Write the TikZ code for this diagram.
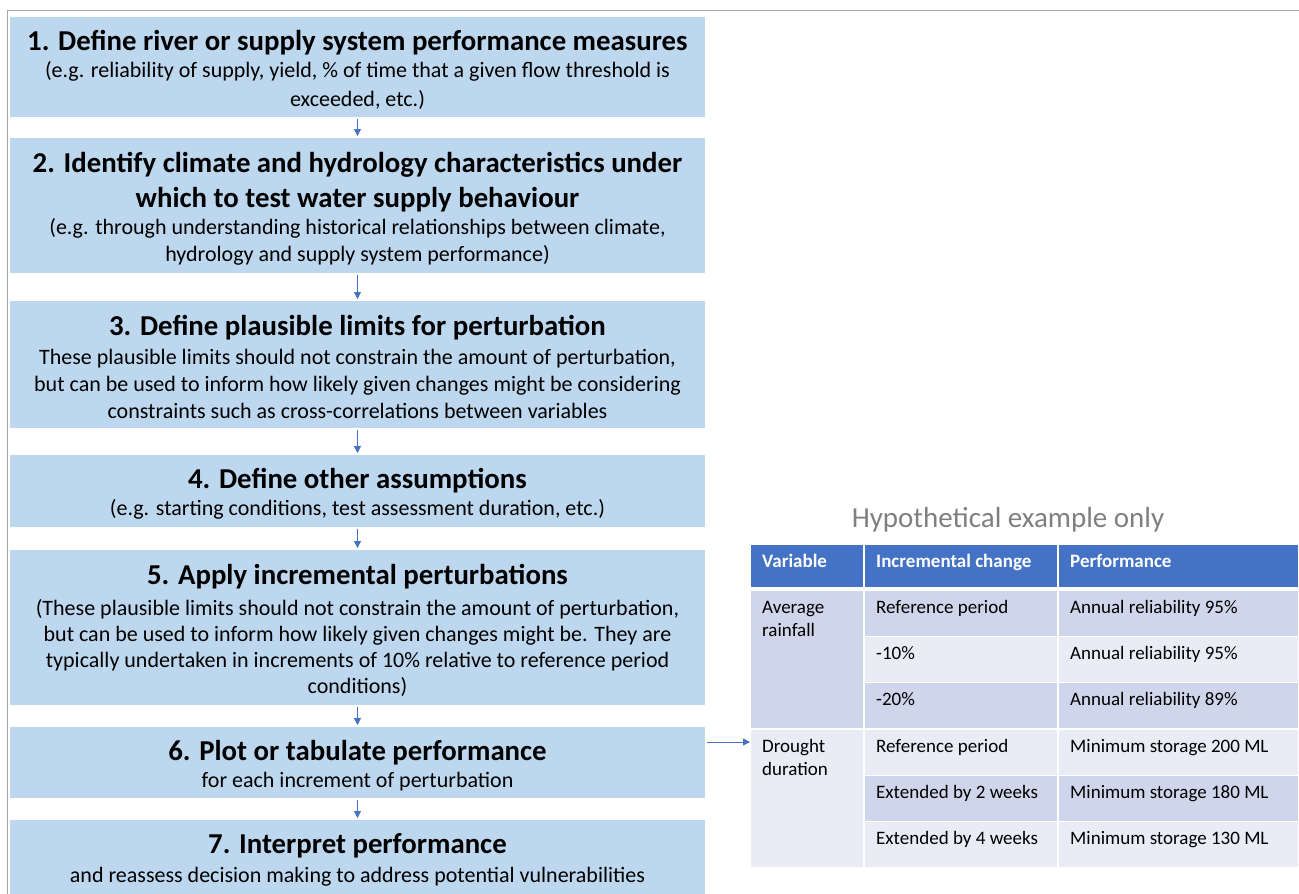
\documentclass[tikz,border=0pt]{standalone}
\usepackage{fontspec}
\setmainfont{Carlito}
\usepackage{tikz}
\usetikzlibrary{arrows.meta, positioning}
\definecolor{stepblue}{HTML}{BDD7EE}
\definecolor{flowblue}{HTML}{4472C4}
\definecolor{tabdark}{HTML}{CFD5EA}
\definecolor{tablight}{HTML}{E9EBF5}
\definecolor{framegrey}{HTML}{A6A6A6}
\definecolor{titlegrey}{HTML}{7F7F7F}
\newcommand{\steptitle}[1]{{\fontsize{28.8}{34}\selectfont\bfseries #1}}
\newcommand{\topstrut}{\rule{0pt}{26pt}}

\begin{document}
\begin{tikzpicture}[x=1pt, y=-1pt,
  stepbox/.style={fill=stepblue, minimum width=695pt, inner sep=0pt, outer sep=0pt,
    align=center, font=\fontsize{22}{27}\selectfont},
  arrow/.style={-{Triangle[length=7pt,width=7pt]}, line width=0.8pt, draw=flowblue,
    shorten <=2pt, shorten >=2pt},
  cell/.style={draw=white, line width=1.5pt, inner sep=0pt, outer sep=0pt, anchor=north west},
  celltext/.style={anchor=base west, inner sep=0pt, align=left,
    font=\fontsize{19}{23}\selectfont}]
  \useasboundingbox (0,0) rectangle (1299,894);
  \draw[framegrey, line width=1pt] (7,894) -- (7,10) -- (1299,10);

  % steps
  \node[stepbox, minimum height=100pt] (s1) at (357.5,67)
    {\topstrut\steptitle{1. Define river or supply system performance measures}\\
     (e.g. reliability of supply, yield, \% of time that a given flow threshold is\\[2pt]
     exceeded, etc.)};
  \node[stepbox, minimum height=135pt, below=21pt of s1] (s2)
    {\topstrut\steptitle{2. Identify climate and hydrology characteristics under}\\[8pt]
     \steptitle{which to test water supply behaviour}\\
     (e.g. through understanding historical relationships between climate,\\
     hydrology and supply system performance)};
  \node[stepbox, minimum height=127pt, below=28pt of s2] (s3)
    {\topstrut\steptitle{3. Define plausible limits for perturbation}\\[2pt]
     These plausible limits should not constrain the amount of perturbation,\\
     but can be used to inform how likely given changes might be considering\\
     constraints such as cross-correlations between variables};
  \node[stepbox, minimum height=72pt, below=27pt of s3] (s4)
    {\topstrut\steptitle{4. Define other assumptions}\\
     (e.g. starting conditions, test assessment duration, etc.)};
  \node[stepbox, minimum height=155pt, below=23pt of s4] (s5)
    {\topstrut\steptitle{5. Apply incremental perturbations}\\[4pt]
     (These plausible limits should not constrain the amount of perturbation,\\[-1pt]
     but can be used to inform how likely given changes might be. They are\\[-1pt]
     typically undertaken in increments of 10\% relative to reference period\\[-1pt]
     conditions)};
  \node[stepbox, minimum height=71pt, below=22pt of s5] (s6)
    {\topstrut\steptitle{6. Plot or tabulate performance}\\
     for each increment of perturbation};
  \node[stepbox, minimum height=74pt, below=22pt of s6] (s7)
    {\topstrut\steptitle{7. Interpret performance}\\[2pt]
     and reassess decision making to address potential vulnerabilities};

  \draw[arrow] (s1) -- (s2);
  \draw[arrow] (s2) -- (s3);
  \draw[arrow] (s3) -- (s4);
  \draw[arrow] (s4) -- (s5);
  \draw[arrow] (s5) -- (s6);
  \draw[arrow] (s6) -- (s7);

  % table
  \node[font=\fontsize{29}{32}\selectfont, text=titlegrey] (tabtitle) at (1008,520)
    {Hypothetical example only};
  \node[cell, fill=flowblue, minimum width=114pt, minimum height=44pt] (hvar) at (750,544) {};
  \node[cell, fill=flowblue, minimum width=194pt, minimum height=44pt] (hinc) at (864,544) {};
  \node[cell, fill=flowblue, minimum width=241pt, minimum height=44pt] (hperf) at (1058,544) {};
  \node[cell, fill=tabdark, minimum width=114pt, minimum height=139pt] (rain) at (750,590) {};
  \node[cell, fill=tablight, minimum width=114pt, minimum height=139pt] (drought) at (750,729) {};
  \node[cell, fill=tabdark, minimum width=194pt, minimum height=46.3pt] (r1c) at (864,590) {};
  \node[cell, fill=tabdark, minimum width=241pt, minimum height=46.3pt] (r1p) at (1058,590) {};
  \node[cell, fill=tablight, minimum width=194pt, minimum height=46.3pt] (r2c) at (864,636.3) {};
  \node[cell, fill=tablight, minimum width=241pt, minimum height=46.3pt] (r2p) at (1058,636.3) {};
  \node[cell, fill=tabdark, minimum width=194pt, minimum height=46.3pt] (r3c) at (864,682.7) {};
  \node[cell, fill=tabdark, minimum width=241pt, minimum height=46.3pt] (r3p) at (1058,682.7) {};
  \node[cell, fill=tablight, minimum width=194pt, minimum height=46.3pt] (r4c) at (864,729) {};
  \node[cell, fill=tablight, minimum width=241pt, minimum height=46.3pt] (r4p) at (1058,729) {};
  \node[cell, fill=tabdark, minimum width=194pt, minimum height=46.3pt] (r5c) at (864,775.3) {};
  \node[cell, fill=tabdark, minimum width=241pt, minimum height=46.3pt] (r5p) at (1058,775.3) {};
  \node[cell, fill=tablight, minimum width=194pt, minimum height=46.3pt] (r6c) at (864,821.7) {};
  \node[cell, fill=tablight, minimum width=241pt, minimum height=46.3pt] (r6p) at (1058,821.7) {};

  \node[celltext, text=white, font=\fontsize{19}{23}\selectfont\bfseries]
    at ([xshift=12pt,yshift=-23pt]hvar.north west) {Variable};
  \node[celltext, text=white, font=\fontsize{19}{23}\selectfont\bfseries]
    at ([xshift=12pt,yshift=-23pt]hinc.north west) {Incremental change};
  \node[celltext, text=white, font=\fontsize{19}{23}\selectfont\bfseries]
    at ([xshift=12pt,yshift=-23pt]hperf.north west) {Performance};
  % two-line cells: base anchor sits on the last line
  \node[celltext] at ([xshift=12pt,yshift=-46pt]rain.north west) {Average\\rainfall};
  \node[celltext] at ([xshift=12pt,yshift=-46pt]drought.north west) {Drought\\duration};
  \node[celltext] at ([xshift=12pt,yshift=-23pt]r1c.north west) {Reference period};
  \node[celltext] at ([xshift=12pt,yshift=-23pt]r1p.north west) {Annual reliability 95\%};
  \node[celltext] at ([xshift=12pt,yshift=-23pt]r2c.north west) {-10\%};
  \node[celltext] at ([xshift=12pt,yshift=-23pt]r2p.north west) {Annual reliability 95\%};
  \node[celltext] at ([xshift=12pt,yshift=-23pt]r3c.north west) {-20\%};
  \node[celltext] at ([xshift=12pt,yshift=-23pt]r3p.north west) {Annual reliability 89\%};
  \node[celltext] at ([xshift=12pt,yshift=-23pt]r4c.north west) {Reference period};
  \node[celltext] at ([xshift=12pt,yshift=-23pt]r4p.north west) {Minimum storage 200 ML};
  \node[celltext] at ([xshift=12pt,yshift=-23pt]r5c.north west) {Extended by 2 weeks};
  \node[celltext] at ([xshift=12pt,yshift=-23pt]r5p.north west) {Minimum storage 180 ML};
  \node[celltext] at ([xshift=12pt,yshift=-23pt]r6c.north west) {Extended by 4 weeks};
  \node[celltext] at ([xshift=12pt,yshift=-23pt]r6p.north west) {Minimum storage 130 ML};

  \coordinate (tabin) at ([yshift=-13pt]drought.north west);
  \draw[arrow, shorten >=0pt] (s6.east |- tabin) -- (tabin);
\end{tikzpicture}
\end{document}
